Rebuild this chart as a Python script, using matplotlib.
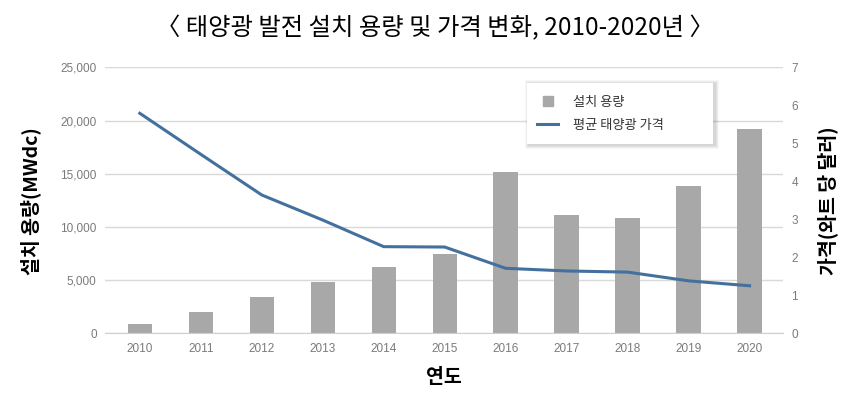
import numpy as np
import matplotlib.pyplot as plt
from matplotlib.ticker import FuncFormatter
from matplotlib.lines import Line2D
from matplotlib.patches import Rectangle

plt.rcParams['font.family'] = ['Noto Sans CJK KR', 'DejaVu Sans']

years = ['2010', '2011', '2012', '2013', '2014', '2015',
         '2016', '2017', '2018', '2019', '2020']
capacity = [870, 2000, 3410, 4790, 6260, 7480,
            15160, 11120, 10810, 13870, 19230]   # MWdc
price = [5.79, 4.71, 3.64, 2.98, 2.28, 2.27,
         1.71, 1.64, 1.61, 1.38, 1.25]            # $/W

bar_color = '#a8a8a8'
line_color = '#44709d'
tick_color = '#7a7a7a'

W, H = 843, 399
fig = plt.figure(figsize=(W / 100, H / 100), dpi=100)
ax = fig.add_axes([0.1246, 0.1647, 0.8044, 0.6666])
ax2 = ax.twinx()

x = np.arange(len(years))
ax.bar(x, capacity, width=0.4, color=bar_color, zorder=2)
ax2.plot(x, price, color=line_color, lw=2.2, zorder=3)

ax.set_xlim(-0.57, 10.55)
ax.set_ylim(0, 25000)
ax.set_yticks(np.arange(0, 25001, 5000))
ax.yaxis.set_major_formatter(FuncFormatter(lambda v, p: f'{int(v):,}'))
ax.grid(axis='y', color='#d9d9d9', lw=1, zorder=0)
ax.set_axisbelow(True)
ax.set_xticks(x)
ax.set_xticklabels(years)

ax2.set_ylim(0, 7)
ax2.set_yticks(range(0, 8))

for a in (ax, ax2):
    for s in a.spines.values():
        s.set_visible(False)
ax.spines['bottom'].set_visible(True)
ax.spines['bottom'].set_color('#cfcfcf')

ax.tick_params(axis='y', length=0, pad=6, labelcolor=tick_color, labelsize=8.5)
ax.tick_params(axis='x', length=0, pad=7, labelcolor=tick_color, labelsize=8.5)
ax2.tick_params(axis='y', length=0, pad=6, labelcolor=tick_color, labelsize=8.5)
for lab in ax.get_xticklabels() + ax.get_yticklabels() + ax2.get_yticklabels():
    lab.set_family(['Liberation Sans', 'DejaVu Sans'])

fig.text(0.036, 0.497, '설치 용량(MWdc)', rotation=90, ha='center', va='center',
         fontsize=14, fontweight='bold')
fig.text(0.982, 0.497, '가격(와트 당 달러)', rotation=90, ha='center', va='center',
         fontsize=14, fontweight='bold')
fig.text(0.527, 0.055, '연도', ha='center', va='center', fontsize=14, fontweight='bold')
fig.text(0.516, 0.93, '〈 태양광 발전 설치 용량 및 가격 변화, 2010-2020년 〉',
         ha='center', va='center', fontsize=17.5)

# legend box with a soft shadow (pixels of the reference)
bx0, by0, bx1, by1 = 527, 83, 713, 144
for i, alpha in enumerate([0.05, 0.05, 0.04, 0.03]):
    off = i + 1
    fig.patches.append(Rectangle(((bx0 - off + 2) / W, 1 - (by1 + off + 1) / H),
                                 (bx1 - bx0 + 2 * off) / W, (by1 - by0 + 2 * off) / H,
                                 transform=fig.transFigure, facecolor='black',
                                 edgecolor='none', alpha=alpha, zorder=8))
fig.patches.append(Rectangle((bx0 / W, 1 - by1 / H), (bx1 - bx0) / W, (by1 - by0) / H,
                             transform=fig.transFigure, facecolor='white',
                             edgecolor='none', zorder=9))

handles = [Line2D([0], [0], color=bar_color, lw=0, marker='s', markersize=7,
                  label='설치 용량'),
           Line2D([0], [0], color=line_color, lw=2.2, label='평균 태양광 가격')]
leg = fig.legend(handles=handles, loc='center left',
                 bbox_to_anchor=(537 / W, 1 - 114 / H),
                 frameon=False, fontsize=9.5, handlelength=1.6, handleheight=0.8,
                 borderpad=0, labelspacing=0.75, borderaxespad=0,
                 handletextpad=1.1)
leg.set_zorder(10)
for t in leg.get_texts():
    t.set_color('#333333')

fig.savefig('out.png', dpi=100)
